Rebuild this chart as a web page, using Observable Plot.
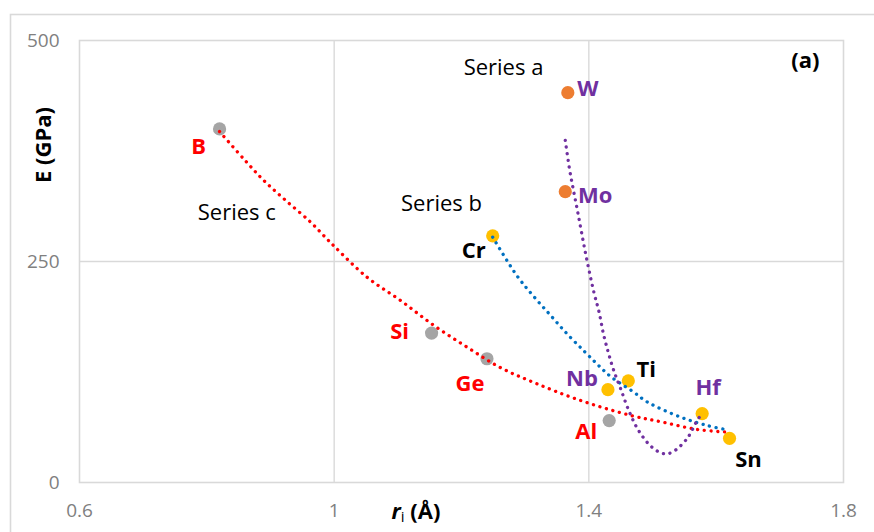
<!DOCTYPE html>
<html>
<head>
<meta charset="utf-8">
<script src="https://cdn.jsdelivr.net/npm/d3@7"></script>
<script src="https://cdn.jsdelivr.net/npm/@observablehq/plot@0.6"></script>
<style>
  html, body { margin: 0; padding: 0; background: #fff; overflow: hidden; }
  #chart svg { display: block; font-family: "Open Sans", sans-serif; }
</style>
</head>
<body>
<div id="chart"></div>
<script>
// Elements: atomic radius r_i (Å) and Young's modulus E (GPa)
const elements = ["B", "Si", "Ge", "Al", "W", "Mo", "Cr", "Nb", "Ti", "Hf", "Sn"];
const radius   = [0.82, 1.153, 1.24, 1.432, 1.367, 1.363, 1.249, 1.43, 1.462, 1.578, 1.621];
const modulus  = [400, 169, 140, 70, 441, 329, 279, 105, 115, 78, 50];
const group    = ["c", "c", "c", "c", "a", "a", "b", "b", "b", "b", "b"];

// Trendline samples for each series
const trendA_x = [1.363, 1.370, 1.376, 1.382, 1.388, 1.396, 1.408, 1.416, 1.423, 1.431, 1.439, 1.450, 1.463, 1.478, 1.499, 1.518, 1.531, 1.554, 1.570, 1.578];
const trendA_y = [387, 353, 330, 308, 285, 255, 215, 193, 168, 146, 127, 106, 81, 59, 40, 32.5, 34.3, 49.4, 70, 78];
const trendB_x = [1.249, 1.287, 1.314, 1.340, 1.366, 1.392, 1.413, 1.434, 1.471, 1.492, 1.544, 1.586, 1.617];
const trendB_y = [277.5, 234, 210, 189, 168, 149, 134, 120, 102, 91, 74, 64.5, 59.6];
const trendC_x = [0.820, 0.858, 0.889, 0.924, 0.963, 0.986, 0.999, 1.052, 1.104, 1.156, 1.209, 1.261, 1.314, 1.382, 1.465, 1.518, 1.570, 1.617];
const trendC_y = [397, 366, 342, 319, 294.5, 277.5, 268, 232, 206, 178, 153, 130, 113, 94, 76, 68, 60, 57];

// Axis ticks
const xTicks = [0.6, 1, 1.4, 1.8];
const yTicks = [0, 250, 500];

const pointFill = {a: "#ED7D31", b: "#FFC000", c: "#A5A5A5"};
const labelColor = {
  B: "#FF0000", Si: "#FF0000", Ge: "#FF0000", Al: "#FF0000",
  W: "#7030A0", Mo: "#7030A0", Nb: "#7030A0", Hf: "#7030A0",
  Cr: "#000000", Ti: "#000000", Sn: "#000000"
};
// label placement relative to each point (pixels)
const labelOffset = {
  B: [-21, 18], Si: [-32, -1], Ge: [-17, 25], Al: [-23, 11],
  W: [20, -4], Mo: [30, 4], Nb: [-26, -11], Hf: [6, -26],
  Cr: [-19, 15], Ti: [18, -11], Sn: [19, 22]
};

const idx = d3.range(elements.length);
const trend = (xs, ys) => xs.map((x, i) => ({x, y: ys[i]}));
const dotted = {strokeWidth: 3.3, strokeDasharray: "0.1 6.6", strokeLinecap: "round", curve: "catmull-rom"};
const grid = "#d9d9d9";

const chart = Plot.plot({
  width: 874,
  height: 532,
  marginLeft: 79,
  marginRight: 31,
  marginTop: 40,
  marginBottom: 50,
  style: {fontFamily: "Open Sans, sans-serif", background: "#fff"},
  x: {domain: [0.6, 1.8]},
  y: {domain: [0, 500]},
  marks: [
    Plot.gridX(xTicks.slice(1, -1), {stroke: grid, strokeOpacity: 1, strokeWidth: 1.4}),
    Plot.gridY(yTicks.slice(1, -1), {stroke: grid, strokeOpacity: 1, strokeWidth: 1.4}),
    Plot.frame({stroke: grid, strokeWidth: 1.6}),
    Plot.axisX(xTicks, {tickSize: 0, tickPadding: 21, fontSize: 19, fill: "#808080", label: null, tickFormat: d => String(d)}),
    Plot.axisY(yTicks, {tickSize: 0, tickPadding: 20, fontSize: 19, fill: "#808080", label: null}),
    Plot.dot(idx, {x: i => radius[i], y: i => modulus[i], r: 6.6, fill: i => pointFill[group[i]], stroke: null}),
    Plot.line(trend(trendC_x, trendC_y), {x: "x", y: "y", stroke: "#FF0000", ...dotted}),
    Plot.line(trend(trendB_x, trendB_y), {x: "x", y: "y", stroke: "#0070C0", ...dotted}),
    Plot.line(trend(trendA_x, trendA_y), {x: "x", y: "y", stroke: "#7030A0", ...dotted}),
    ...idx.map(i => Plot.text([i], {
      x: i => radius[i], y: i => modulus[i], text: i => elements[i],
      fill: labelColor[elements[i]], fontSize: 22, fontWeight: "bold",
      dx: labelOffset[elements[i]][0], dy: labelOffset[elements[i]][1],
      lineAnchor: "middle", textAnchor: "middle"
    })),
    Plot.text(["Series a"], {x: 1.266, y: 469, text: d => d, fontSize: 22, fill: "#000", lineAnchor: "middle"}),
    Plot.text(["Series b"], {x: 1.1686, y: 315, text: d => d, fontSize: 22, fill: "#000", lineAnchor: "middle"}),
    Plot.text(["Series c"], {x: 0.847, y: 304.5, text: d => d, fontSize: 22, fill: "#000", lineAnchor: "middle"}),
    Plot.text(["(a)"], {x: 1.74, y: 477, text: d => d, fontSize: 22, fontWeight: "bold", fill: "#000", lineAnchor: "middle"})
  ]
});

const svg = d3.select(chart);
// outer chart-area border
svg.append("rect")
  .attr("x", 10.5).attr("y", 14.5).attr("width", 900).attr("height", 600)
  .attr("fill", "none").attr("stroke", grid).attr("stroke-width", 1.6);

// y-axis title
svg.append("text")
  .attr("transform", "translate(43,145) rotate(-90)")
  .attr("text-anchor", "middle").attr("dy", "0.35em")
  .attr("font-size", 22).attr("font-weight", "bold").attr("fill", "#000")
  .text("E (GPa)");

// x-axis title: italic r with subscript i
const xt = svg.append("text")
  .attr("x", 416).attr("y", 519)
  .attr("font-size", 22).attr("font-weight", "bold").attr("fill", "#000");
xt.append("tspan").attr("font-style", "italic").text("r");
xt.append("tspan").attr("font-size", 15).attr("font-weight", "normal").attr("dy", 3).text("i");
xt.append("tspan").attr("dy", -3).text(" (Å)");

document.getElementById("chart").append(chart);
</script>
</body>
</html>
